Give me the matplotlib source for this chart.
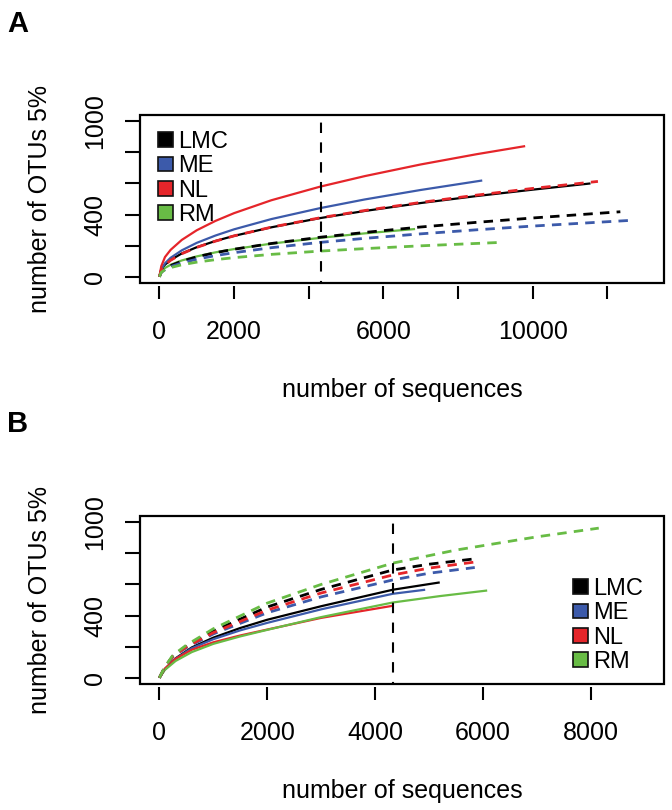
import matplotlib
matplotlib.use("Agg")
import matplotlib.pyplot as plt
from matplotlib.patches import Patch, Rectangle

plt.rcParams['font.family'] = ['Liberation Sans', 'DejaVu Sans']

groups = ["LMC", "ME", "NL", "RM"]
colors = ["#000000", "#3C5AAA", "#E5252A", "#68BC45"]
cutoff = 4330

# ---------------- Panel A data ----------------
a_lmc_solid_x = [0, 50, 150, 300, 600, 1000, 1500, 2000, 3000, 4300, 5500, 7000, 8500, 10000, 11550]
a_lmc_solid_y = [0, 46, 78, 108, 150, 190, 230, 263, 318, 377, 423, 474, 519, 560, 600]
a_me_solid_x = [0, 50, 150, 300, 600, 1000, 1500, 2000, 3000, 4300, 5500, 7000, 8650]
a_me_solid_y = [0, 48, 87, 122, 170, 218, 265, 305, 371, 441, 497, 558, 619]
a_nl_solid_x = [0, 50, 150, 300, 600, 1000, 1500, 2000, 3000, 4300, 5500, 7000, 8500, 9800]
a_nl_solid_y = [0, 68, 127, 173, 237, 299, 359, 409, 492, 579, 647, 722, 788, 840]
a_rm_solid_x = [0, 50, 150, 300, 600, 1000, 1500, 2000, 3000, 4300, 5500, 6850]
a_rm_solid_y = [0, 35, 57, 77, 105, 131, 157, 178, 213, 250, 279, 307]

a_lmc_dash_x = [0, 50, 150, 300, 600, 1000, 1500, 2000, 3000, 4300, 5500, 7000, 8500, 10000, 12350]
a_lmc_dash_y = [0, 31, 52, 72, 100, 128, 155, 177, 214, 254, 285, 320, 350, 378, 418]
a_me_dash_x = [0, 50, 150, 300, 600, 1000, 1500, 2000, 3000, 4300, 5500, 7000, 8500, 10000, 12650]
a_me_dash_y = [0, 28, 47, 65, 89, 113, 136, 155, 187, 221, 247, 276, 302, 326, 363]
a_nl_dash_x = [0, 50, 150, 300, 600, 1000, 1500, 2000, 3000, 4300, 5500, 7000, 8500, 10000, 11750]
a_nl_dash_y = [0, 45, 76, 106, 148, 189, 229, 263, 319, 379, 426, 478, 525, 568, 613]
a_rm_dash_x = [0, 50, 150, 300, 600, 1000, 1500, 2000, 3000, 4300, 5500, 7000, 9150]
a_rm_dash_y = [0, 29, 45, 59, 77, 94, 110, 123, 144, 165, 181, 199, 221]

# ---------------- Panel B data ----------------
b_lmc_solid_x = [0, 100, 300, 600, 1000, 1500, 2000, 3000, 4330, 5200]
b_lmc_solid_y = [0, 55, 125, 195, 258, 320, 373, 460, 566, 613]
b_me_solid_x = [0, 100, 300, 600, 1000, 1500, 2000, 3000, 4330, 4930]
b_me_solid_y = [0, 55, 122, 190, 248, 305, 353, 440, 540, 566]
b_nl_solid_x = [0, 100, 300, 600, 1000, 1500, 2000, 3000, 4330]
b_nl_solid_y = [0, 58, 122, 180, 228, 272, 310, 385, 463]
b_rm_solid_x = [0, 100, 300, 600, 1000, 1500, 2000, 3000, 4330, 5200, 6080]
b_rm_solid_y = [0, 50, 108, 165, 218, 266, 308, 390, 484, 525, 561]

b_lmc_dash_x = [0, 100, 250, 500, 1000, 2000, 3000, 4330, 5000, 5860]
b_lmc_dash_y = [0, 68, 140, 203, 300, 455, 568, 693, 730, 765]
b_me_dash_x = [0, 100, 250, 500, 1000, 2000, 3000, 4330, 5000, 5850]
b_me_dash_y = [0, 66, 136, 194, 282, 418, 520, 629, 672, 709]
b_nl_dash_x = [0, 100, 250, 500, 1000, 2000, 3000, 4330, 5000, 5850]
b_nl_dash_y = [0, 67, 138, 198, 290, 435, 545, 661, 705, 744]
b_rm_dash_x = [0, 100, 250, 500, 1000, 2000, 3000, 4330, 5500, 7000, 8150]
b_rm_dash_y = [0, 70, 145, 210, 315, 480, 600, 737, 821, 906, 962]

y_ticks = [0, 200, 400, 600, 800, 1000]
y_ticklabels = ["0", "", "400", "", "", "1000"]
a_x_ticks = [0, 2000, 4000, 6000, 8000, 10000, 12000]
a_x_ticklabels = ["0", "2000", "", "6000", "", "10000", ""]
b_x_ticks = [0, 2000, 4000, 6000, 8000]
b_x_ticklabels = ["0", "2000", "4000", "6000", "8000"]

W, H = 672, 810
fig = plt.figure(figsize=(W / 100, H / 100), dpi=100)

def make_axes(top_px):
    return fig.add_axes([140 / W, 1 - (top_px + 168) / H, 524 / W, 168 / H])

axA = make_axes(115)
axB = make_axes(516)

def style(ax, xmax, xticks, xticklabels):
    ax.set_xlim(-0.04 * xmax, 1.04 * xmax)
    ax.set_ylim(-40, 1040)
    for s in ax.spines.values():
        s.set_color('none')
    ax.spines['bottom'].set_position(('outward', 2))
    ax.add_patch(Rectangle((0, 0), 1, 1, transform=ax.transAxes, fill=False,
                           lw=1.6, edgecolor='black', clip_on=False, zorder=10))
    ax.set_xticks(xticks)
    ax.set_xticklabels(xticklabels)
    ax.set_yticks(y_ticks)
    ax.set_yticklabels(y_ticklabels, rotation=90, va='center')
    ax.tick_params(axis='x', direction='out', length=9.5, width=1.5, pad=15, labelsize=18)
    ax.tick_params(axis='y', direction='out', length=10.8, width=1.5, pad=13, labelsize=18)
    ax.axvline(cutoff, color='black', lw=1.5, linestyle=(4, (5, 4.5)), zorder=5)

solid_lw = 1.6
dash_lw = 2.0
dash_style = (0, (3.4, 2.6))

def draw(ax, solids, dashes):
    for (x, y), c in zip(solids, colors):
        ax.plot(x, y, color=c, lw=solid_lw, solid_capstyle='butt')
    for (x, y), c in zip(dashes, colors):
        ax.plot(x, y, color=c, lw=dash_lw, linestyle=dash_style)

style(axA, 13000, a_x_ticks, a_x_ticklabels)
draw(axA,
     [(a_lmc_solid_x, a_lmc_solid_y), (a_me_solid_x, a_me_solid_y),
      (a_nl_solid_x, a_nl_solid_y), (a_rm_solid_x, a_rm_solid_y)],
     [(a_lmc_dash_x, a_lmc_dash_y), (a_me_dash_x, a_me_dash_y),
      (a_nl_dash_x, a_nl_dash_y), (a_rm_dash_x, a_rm_dash_y)])

style(axB, 9000, b_x_ticks, b_x_ticklabels)
draw(axB,
     [(b_lmc_solid_x, b_lmc_solid_y), (b_me_solid_x, b_me_solid_y),
      (b_nl_solid_x, b_nl_solid_y), (b_rm_solid_x, b_rm_solid_y)],
     [(b_lmc_dash_x, b_lmc_dash_y), (b_me_dash_x, b_me_dash_y),
      (b_nl_dash_x, b_nl_dash_y), (b_rm_dash_x, b_rm_dash_y)])

handles = [Patch(facecolor=c, edgecolor='#111111', lw=1.2) for c in colors]
leg_kw = dict(frameon=False, fontsize=17, handlelength=0.62, handleheight=0.58,
              handletextpad=0.25, labelspacing=0.1, borderpad=0, borderaxespad=0,
              loc='upper left')
axA.legend(handles, groups, bbox_to_anchor=((158 - 140) / 524, (283 - 131) / 168), **leg_kw)
axB.legend(handles, groups, bbox_to_anchor=((573 - 140) / 524, (684 - 578) / 168), **leg_kw)

for ax, top in ((axA, 115), (axB, 516)):
    ax.set_xlabel("number of sequences", fontsize=18, va='center')
    ax.xaxis.set_label_coords(0.5, (top + 168 - (top + 275)) / 168)
    ax.set_ylabel("number of OTUs 5%", fontsize=18, va='center', ha='center',
                  rotation_mode='default')
    ax.yaxis.set_label_coords((40 - 140) / 524, 0.5)

fig.text(7 / W, 1 - 32 / H, "A", fontsize=21, fontweight='bold', va='baseline')
fig.text(7 / W, 1 - 432 / H, "B", fontsize=21, fontweight='bold', va='baseline')

fig.savefig("out.png", dpi=100)
